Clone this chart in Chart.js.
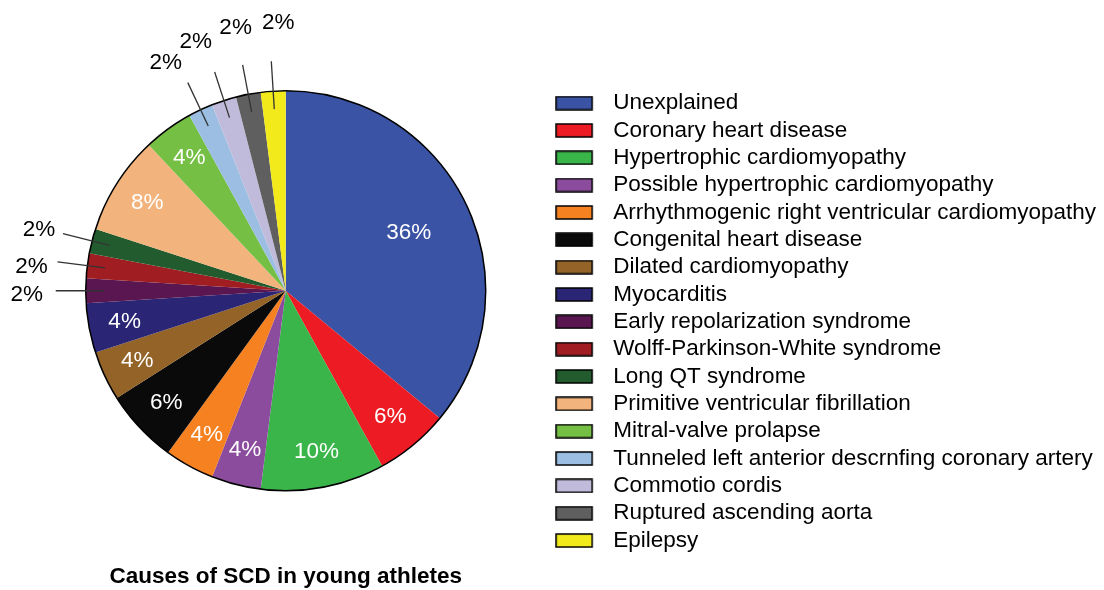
<!DOCTYPE html>
<html>
<head>
<meta charset="utf-8">
<script src="https://cdn.jsdelivr.net/npm/chart.js@4.4.1/dist/chart.umd.min.js"></script>
<style>
    html, body { margin: 0; padding: 0; background: #fff; }
    #wrap { width: 1104px; height: 590px; }
</style>
</head>
<body>
<div id="wrap"><canvas id="scdChart" width="1104" height="590"></canvas></div>
<script>
const causes = [
    'Unexplained',
    'Coronary heart disease',
    'Hypertrophic cardiomyopathy',
    'Possible hypertrophic cardiomyopathy',
    'Arrhythmogenic right ventricular cardiomyopathy',
    'Congenital heart disease',
    'Dilated cardiomyopathy',
    'Myocarditis',
    'Early repolarization syndrome',
    'Wolff-Parkinson-White syndrome',
    'Long QT syndrome',
    'Primitive ventricular fibrillation',
    'Mitral-valve prolapse',
    'Tunneled left anterior descrnfing coronary artery',
    'Commotio cordis',
    'Ruptured ascending aorta',
    'Epilepsy'
];
const shares = [36, 6, 10, 4, 4, 6, 4, 4, 2, 2, 2, 8, 4, 2, 2, 2, 2];
const sliceColors = [
    '#3a53a4', '#ed1c24', '#3ab54a', '#8b4c9e', '#f68120', '#0a0a0a',
    '#946328', '#2a2675', '#5a1650', '#a01e22', '#225c2e', '#f2b47c',
    '#74bf44', '#9bbee2', '#c0bbdb', '#5f5f5f', '#f3ea1b'
];
const chartTitle = 'Causes of SCD in young athletes';

const FONT = '"Liberation Sans", Arial, sans-serif';

// legend swatch: 37x13 box with black edge, on a wider canvas so the text sits further right
function makeSwatch(color) {
    const c = document.createElement('canvas');
    c.width = 47;
    c.height = 15;
    const g = c.getContext('2d');
    g.fillStyle = color;
    g.fillRect(1, 1, 36, 13);
    g.strokeStyle = '#000';
    g.lineWidth = 1.5;
    g.strokeRect(1, 1, 36, 13);
    return c;
}

// where the text of a small slice sits, relative to the outer end of its leader line
const calloutOffsets = {
    8: [-29, 4],
    9: [-26, 5],
    10: [-24, -4],
    13: [-22, -20],
    14: [-19, -30],
    15: [-7, -37],
    16: [7, -38]
};

const sliceLabels = {
    id: 'sliceLabels',
    afterDatasetsDraw(chart) {
        const { ctx } = chart;
        const arcs = chart.getDatasetMeta(0).data;
        if (!arcs.length) return;
        const cx = arcs[0].x;
        const cy = arcs[0].y;
        const r = arcs[0].outerRadius;

        ctx.save();
        ctx.beginPath();
        ctx.arc(cx, cy, r, 0, Math.PI * 2);
        ctx.lineWidth = 1.5;
        ctx.strokeStyle = '#000';
        ctx.stroke();

        ctx.font = `22.5px ${FONT}`;
        ctx.textAlign = 'center';
        ctx.textBaseline = 'middle';
        arcs.forEach((arc, i) => {
            const mid = (arc.startAngle + arc.endAngle) / 2;
            const cos = Math.cos(mid);
            const sin = Math.sin(mid);
            const text = shares[i] + '%';
            if (shares[i] >= 4) {
                const f = i === 0 ? 0.68 : 0.82;
                ctx.fillStyle = '#fff';
                ctx.fillText(text, cx + cos * r * f, cy + sin * r * f);
            } else {
                const ex = cx + cos * r * 1.15;
                const ey = cy + sin * r * 1.15;
                ctx.beginPath();
                ctx.moveTo(cx + cos * r * 0.91, cy + sin * r * 0.91);
                ctx.lineTo(ex, ey);
                ctx.lineWidth = 1.3;
                ctx.strokeStyle = '#333';
                ctx.stroke();
                const [ox, oy] = calloutOffsets[i] || [0, -24];
                ctx.fillStyle = '#000';
                ctx.fillText(text, ex + ox, ey + oy);
            }
        });
        ctx.restore();
    }
};

new Chart(document.getElementById('scdChart'), {
    type: 'pie',
    data: {
        labels: causes,
        datasets: [{
            data: shares,
            backgroundColor: sliceColors,
            borderWidth: 0,
            radius: 200
        }]
    },
    options: {
        responsive: false,
        animation: false,
        events: [],
        layout: {
            padding: { top: 87, left: 21, right: -2, bottom: 0 }
        },
        plugins: {
            legend: {
                position: 'right',
                align: 'start',
                maxWidth: 600,
                labels: {
                    color: '#000',
                    font: { family: FONT, size: 22.5 },
                    padding: 4.84,
                    usePointStyle: true,
                    pointStyleWidth: 46.75,
                    generateLabels: (chart) => causes.map((name, i) => ({
                        text: name,
                        fillStyle: sliceColors[i],
                        strokeStyle: '#000',
                        lineWidth: 0,
                        pointStyle: makeSwatch(sliceColors[i]),
                        hidden: false,
                        index: i
                    }))
                }
            },
            title: {
                display: true,
                text: chartTitle,
                position: 'bottom',
                fullSize: false,
                color: '#000',
                font: { family: FONT, size: 22.5, weight: 'bold' },
                padding: { top: 68.5, bottom: 0 }
            },
            tooltip: { enabled: false }
        }
    },
    plugins: [sliceLabels]
});
</script>
</body>
</html>
